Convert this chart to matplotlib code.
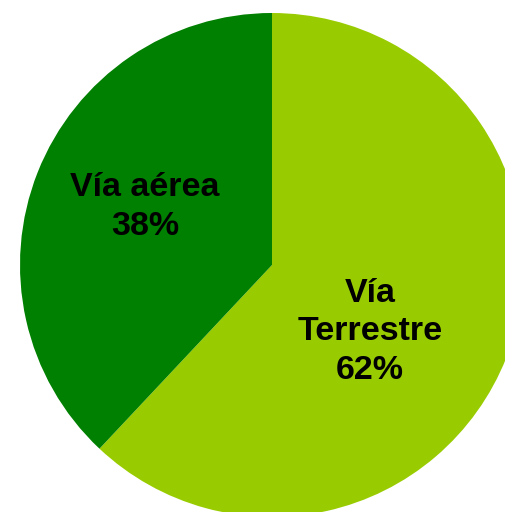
import matplotlib
matplotlib.use("Agg")
import matplotlib.pyplot as plt

categories = ["Vía\nTerrestre", "Vía aérea"]
values = [62, 38]
colors = ["#99CC00", "#008000"]

W, H = 506, 512
fig = plt.figure(figsize=(W / 100, H / 100), dpi=100)
cx, cy, r = 272, 512 - 265, 252
ax = fig.add_axes([(cx - r) / W, (cy - r) / H, 2 * r / W, 2 * r / H])
ax.pie(values, colors=colors, startangle=90, counterclock=False, radius=1,
       wedgeprops=dict(linewidth=0))
ax.set_xlim(-1, 1)
ax.set_ylim(-1, 1)
ax.set_aspect("equal")
ax.axis("off")

label_pos = [(0.389, -0.265), (-0.504, 0.23)]
for cat, v, (x, y) in zip(categories, values, label_pos):
    ax.text(x, y, f"{cat}\n{v}%", ha="center", va="center", fontsize=24.5,
            fontweight="bold", family="Liberation Sans", color="black",
            linespacing=1.32)

fig.savefig("out.png", dpi=100)
